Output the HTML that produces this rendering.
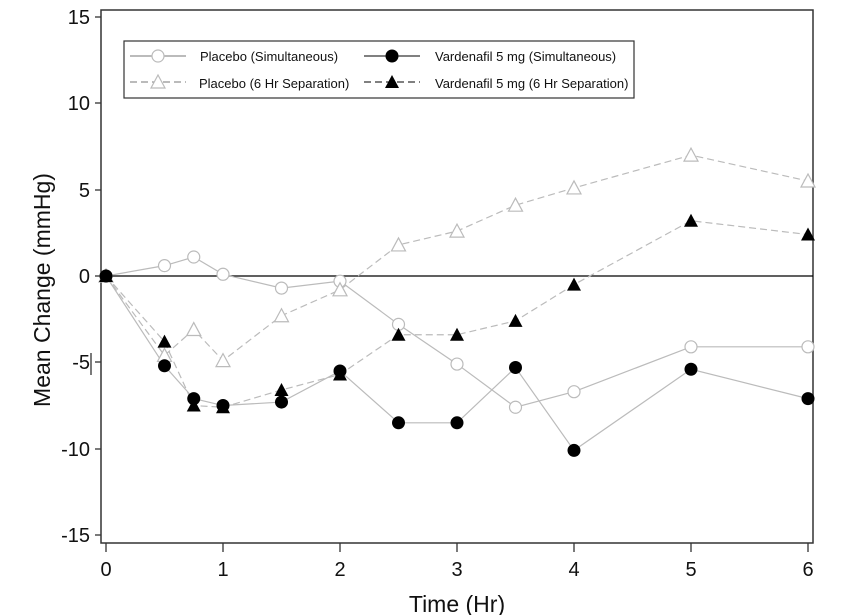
<!DOCTYPE html>
<html><head><meta charset="utf-8"><style>
html,body{margin:0;padding:0;background:#fff}
svg{display:block;font-family:"Liberation Sans",Arial,sans-serif}
</style></head><body>
<svg id="s" width="848" height="615" viewBox="0 0 848 615" xmlns="http://www.w3.org/2000/svg">
<rect x="0" y="0" width="848" height="615" fill="#fff"/>
<rect x="101" y="10" width="712" height="533" fill="none" stroke="#333" stroke-width="1.5"/>
<line x1="101" y1="276" x2="813" y2="276" stroke="#000" stroke-width="1.3"/>
<g stroke="#333" stroke-width="1.3">
<line x1="95" y1="17" x2="101" y2="17"/><line x1="95" y1="103" x2="101" y2="103"/>
<line x1="95" y1="190" x2="101" y2="190"/><line x1="95" y1="276" x2="101" y2="276"/>
<line x1="95" y1="362" x2="101" y2="362"/><line x1="95" y1="449" x2="101" y2="449"/>
<line x1="95" y1="535" x2="101" y2="535"/>
<line x1="91" y1="353" x2="91" y2="375"/>
<line x1="106" y1="543" x2="106" y2="552"/><line x1="223" y1="543" x2="223" y2="552"/>
<line x1="340" y1="543" x2="340" y2="552"/><line x1="457" y1="543" x2="457" y2="552"/>
<line x1="574" y1="543" x2="574" y2="552"/><line x1="691" y1="543" x2="691" y2="552"/>
<line x1="808" y1="543" x2="808" y2="552"/>
</g>
<g font-size="20" fill="#111" text-anchor="end">
<text x="90" y="24">15</text><text x="90" y="110">10</text><text x="90" y="197">5</text>
<text x="90" y="283">0</text><text x="90" y="369">-5</text><text x="90" y="456">-10</text>
<text x="90" y="542">-15</text>
</g>
<g font-size="20" fill="#111" text-anchor="middle">
<text x="106" y="576">0</text><text x="223" y="576">1</text><text x="340" y="576">2</text>
<text x="457" y="576">3</text><text x="574" y="576">4</text><text x="691" y="576">5</text>
<text x="808" y="576">6</text>
</g>
<text x="457" y="612" font-size="23" text-anchor="middle" fill="#111">Time (Hr)</text>
<text transform="translate(50,290) rotate(-90)" font-size="23" text-anchor="middle" fill="#111">Mean Change (mmHg)</text>
<rect x="124" y="41" width="510" height="57" fill="#fff" stroke="#333" stroke-width="1.2"/>
<g font-size="13" fill="#111">
<text x="200" y="61">Placebo  (Simultaneous)</text>
<text x="199" y="88">Placebo  (6 Hr  Separation)</text>
<text x="435" y="61">Vardenafil  5  mg  (Simultaneous)</text>
<text x="435" y="88">Vardenafil  5  mg  (6 Hr  Separation)</text>
</g>
<g id="g"></g>
</svg>
<script>
var X=function(t){return 106+117*t},Y=function(v){return 276-17.27*v};
var T=[0,.5,.75,1,1.5,2,2.5,3,3.5,4,5,6];
var S=[
{d:[0,.6,1.1,.1,-.7,-.3,-2.8,-5.1,-7.6,-6.7,-4.1,-4.1],dash:"",m:"oc"},
{d:[0,-4.6,-3.1,-4.9,-2.3,-.8,1.8,2.6,4.1,5.1,7.0,5.5],dash:"7,4",m:"ot"},
{d:[0,-5.2,-7.1,-7.5,-7.3,-5.5,-8.5,-8.5,-5.3,-10.1,-5.4,-7.1],dash:"",m:"fc"},
{d:[0,-3.8,-7.5,-7.6,-6.6,-5.7,-3.4,-3.4,-2.6,-.5,3.2,2.4],dash:"7,4",m:"ft"}];
var h="";
function mk(m,x,y){
 if(m=="oc")return '<circle cx="'+x+'" cy="'+y+'" r="6" fill="#fff" stroke="#bbb" stroke-width="1.2"/>';
 if(m=="fc")return '<circle cx="'+x+'" cy="'+y+'" r="6.5" fill="#000"/>';
 var p=(x-7)+','+(y+6)+' '+(x+7)+','+(y+6)+' '+x+','+(y-7);
 if(m=="ot")return '<polygon points="'+p+'" fill="#fff" stroke="#bbb" stroke-width="1.2"/>';
 return '<polygon points="'+p+'" fill="#000"/>';
}
S.forEach(function(s){var pts=T.map(function(t,i){return X(t)+','+Y(s.d[i])}).join(' ');
 h+='<polyline points="'+pts+'" fill="none" stroke="#bbb" stroke-width="1.2" stroke-dasharray="'+s.dash+'"/>';});
S.forEach(function(s){T.forEach(function(t,i){h+=mk(s.m,X(t),Y(s.d[i]));});});
var L=[[56,"oc","",130,186],[82,"ot","7,4",130,186],[56,"fc","",364,420],[82,"ft","7,4",364,420]];
L.forEach(function(l){h+='<line x1="'+l[3]+'" y1="'+l[0]+'" x2="'+l[4]+'" y2="'+l[0]+'" stroke="'+(l[1][0]=="f"?"#000":"#777")+'" stroke-width="1" stroke-dasharray="'+l[2]+'"/>'+mk(l[1],(l[3]+l[4])/2,l[0]);});
document.getElementById("g").innerHTML=h;
</script>
</body></html>
